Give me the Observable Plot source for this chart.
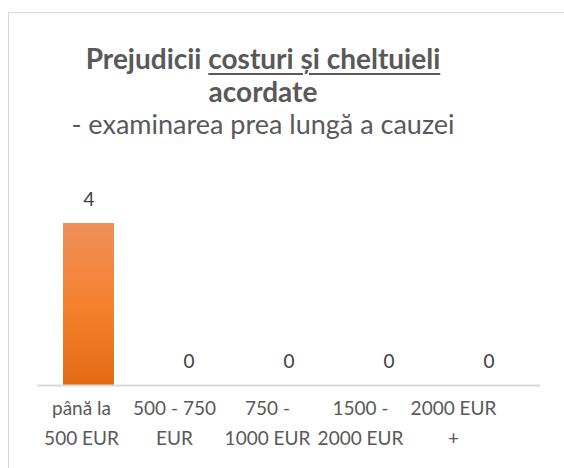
<!DOCTYPE html>
<html>
<head>
<meta charset="utf-8">
<script src="https://cdn.jsdelivr.net/npm/d3@7"></script>
<script src="https://cdn.jsdelivr.net/npm/@observablehq/plot@0.6"></script>
<style>
  html, body { margin: 0; padding: 0; background: #fff; overflow: hidden; }
  body { width: 564px; height: 468px; position: relative; font-family: Lato, "Open Sans", sans-serif; color: #595959; }
  #frame { position: absolute; left: 8px; top: 12px; width: 600px; height: 500px; border-left: 1.5px solid #d9d9d9; border-top: 1.5px solid #d9d9d9; box-sizing: border-box; }
  .t { position: absolute; left: 0; width: 526px; text-align: center; white-space: nowrap; line-height: 1; }
  #t1 { top: 44px; font-size: 28px; font-weight: bold; }
  #t2 { top: 77px; font-size: 28px; font-weight: bold; }
  #t3 { top: 110px; font-size: 27px; font-weight: normal; }
  #t1 u { text-decoration-thickness: 2px; text-underline-offset: 4px; }
  #plot { position: absolute; left: 0; top: 150px; }
  #labels { position: absolute; left: 0; top: 390px; }
</style>
</head>
<body>
<div id="frame"></div>
<div class="t" id="t1">Prejudicii <u>costuri și cheltuieli</u></div>
<div class="t" id="t2">acordate</div>
<div class="t" id="t3">- examinarea prea lungă a cauzei</div>
<div id="plot"></div>
<div id="labels"></div>
<script>
const categories = ["până la 500 EUR", "500 - 750 EUR", "750 - 1000 EUR", "1500 - 2000 EUR", "2000 EUR +"];
const tickLabels = ["până la\n500 EUR", "500 - 750\nEUR", "750 -\n1000 EUR", "1500 -\n2000 EUR", "2000 EUR\n+"];
const values = [4, 0, 0, 0, 0];

const data = categories.map((c, i) => ({category: c, label: tickLabels[i], value: values[i]}));

const chart = Plot.plot({
  width: 564,
  height: 240,
  marginLeft: 37,
  marginRight: 24,
  marginTop: 32.5,
  marginBottom: 5,
  style: {fontFamily: "Lato, 'Open Sans', sans-serif", color: "#595959", background: "transparent"},
  x: {domain: categories, paddingInner: 0.49, paddingOuter: 0.245, axis: null},
  y: {domain: [0, 5], axis: null},
  marks: [
    Plot.barY(data, {x: "category", y: "value", fill: "url(#barGrad)", filter: d => d.value > 0, style: "filter: drop-shadow(0px 1px 3px rgba(0,0,0,0.35))"}),
    Plot.ruleY([0], {stroke: "#d9d9d9", strokeWidth: 2}),
    Plot.text(data, {x: "category", y: "value", text: d => String(d.value), lineAnchor: "bottom", dy: -18, fontSize: 19, fill: "#404040"})
  ]
});
const svg = d3.select(chart);
const defs = svg.insert("defs", ":first-child");
const g = defs.append("linearGradient").attr("id", "barGrad").attr("x1", 0).attr("y1", 0).attr("x2", 0).attr("y2", 1);
g.append("stop").attr("offset", "0%").attr("stop-color", "#F08F5A");
g.append("stop").attr("offset", "50%").attr("stop-color", "#F4822F");
g.append("stop").attr("offset", "100%").attr("stop-color", "#E46A15");
document.getElementById("plot").append(chart);

const labelsPlot = Plot.plot({
  width: 564,
  height: 70,
  marginLeft: 34,
  marginRight: 65,
  marginTop: 0,
  marginBottom: 0,
  style: {fontFamily: "Lato, 'Open Sans', sans-serif", color: "#595959", background: "transparent"},
  x: {domain: categories, axis: null},
  y: {axis: null},
  marks: [
    Plot.text(data, {x: "category", text: "label", frameAnchor: "top", lineAnchor: "top", lineHeight: 1.55, fontSize: 19, fill: "#595959", dy: 4})
  ]
});
document.getElementById("labels").append(labelsPlot);
</script>
</body>
</html>
